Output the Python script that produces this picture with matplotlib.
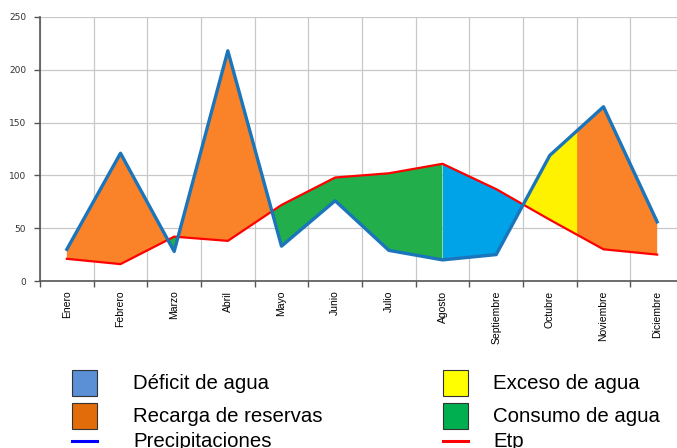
import numpy as np
import matplotlib.pyplot as plt
from matplotlib.patches import Rectangle
from matplotlib.lines import Line2D

meses = ['Enero', 'Febrero', 'Marzo', 'Abril', 'Mayo', 'Junio', 'Julio',
         'Agosto', 'Septiembre', 'Octubre', 'Noviembre', 'Diciembre']
precipitaciones = [30, 121, 28, 218, 33, 76, 29, 20, 25, 119, 165, 56]
etp = [21, 16, 42, 38, 72, 98, 102, 111, 87, 58, 30, 25]

# limites de los periodos del balance (en posicion de mes)
mes_fin_reservas = 7      # Agosto: se agotan las reservas
mes_fin_exceso = 9.5      # entre Octubre y Noviembre

c_deficit = '#00A2E8'
c_recarga = '#FA8228'
c_exceso = '#FFF200'
c_consumo = '#22AF4B'

fig = plt.figure(figsize=(6.77, 4.48), dpi=100)
ax = fig.add_axes([40/677, 1-281/448, 644/677, 264/448])

x = np.arange(len(meses))
xf = np.linspace(0, len(meses)-1, 20001)
pf = np.interp(xf, x, precipitaciones)
ef = np.interp(xf, x, etp)
sup = pf >= ef

exceso = sup & (xf > 8) & (xf <= mes_fin_exceso)
recarga = sup & ~exceso
consumo = ~sup & (xf <= mes_fin_reservas)
deficit = ~sup & (xf >= mes_fin_reservas)

for m, c in [(recarga, c_recarga), (exceso, c_exceso), (consumo, c_consumo), (deficit, c_deficit)]:
    ax.fill_between(xf, pf, ef, where=m, color=c, interpolate=True, linewidth=0, zorder=2)

ax.plot(x, etp, color='#FF0000', lw=1.6, zorder=3)
ax.plot(x, precipitaciones, color='#1B75BB', lw=2.4, zorder=4)

ax.set_xlim(-0.5, len(meses)-0.5)
ax.set_ylim(0, 250)
ax.set_yticks(range(0, 251, 50))
ax.set_xticks(x)
ax.set_xticks(np.arange(-0.5, len(meses), 1), minor=True)
ax.set_xticklabels(meses, rotation=90, fontsize=7.5, family='Liberation Sans')
ax.tick_params(axis='x', which='major', length=0, pad=7)
ax.tick_params(axis='x', which='minor', length=4, color='#555555', width=1)
ax.tick_params(axis='y', length=4, color='#555555', width=1, labelsize=6.5, labelcolor='#333333', pad=6)
ax.grid(axis='y', color='#C8C8C8', lw=0.9, zorder=1)
ax.grid(axis='x', which='minor', color='#C8C8C8', lw=0.9, zorder=1)
ax.set_axisbelow(True)
for s in ['top', 'right']:
    ax.spines[s].set_visible(False)
for s in ['left', 'bottom']:
    ax.spines[s].set_color('#555555')
    ax.spines[s].set_linewidth(1.2)

# leyenda
W, H = 677, 448
def px(xp, yp):
    return xp/W, 1-yp/H

items = [
    (72, 370, 'patch', '#5B8FD6', 'Déficit de agua'),
    (72, 403, 'patch', '#E36C0A', 'Recarga de reservas'),
    (72, 441, 'line', '#0000FF', 'Precipitaciones'),
    (443, 370, 'patch', '#FFFF00', 'Exceso de agua'),
    (443, 403, 'patch', '#00B050', 'Consumo de agua'),
    (443, 441, 'line', '#FF0000', 'Etp'),
]
for xp, yp, tipo, col, lab in items:
    if tipo == 'patch':
        x0, y0 = px(xp, yp + 26)
        fig.add_artist(Rectangle((x0, y0), 25/W, 26/H, transform=fig.transFigure,
                                 facecolor=col, edgecolor='#333333', lw=0.8))
        yc = yp + 13
    else:
        x0, y0 = px(xp, yp)
        fig.add_artist(Line2D([x0, x0 + 25/W], [y0, y0], transform=fig.transFigure,
                              color=col, lw=2.2))
        yc = yp
    tx, ty = px(xp + (61 if xp < 200 else 50), yc)
    fig.text(tx, ty, lab, fontsize=14.7, family='Liberation Sans', va='center', ha='left')

fig.savefig('out.png', dpi=100)
